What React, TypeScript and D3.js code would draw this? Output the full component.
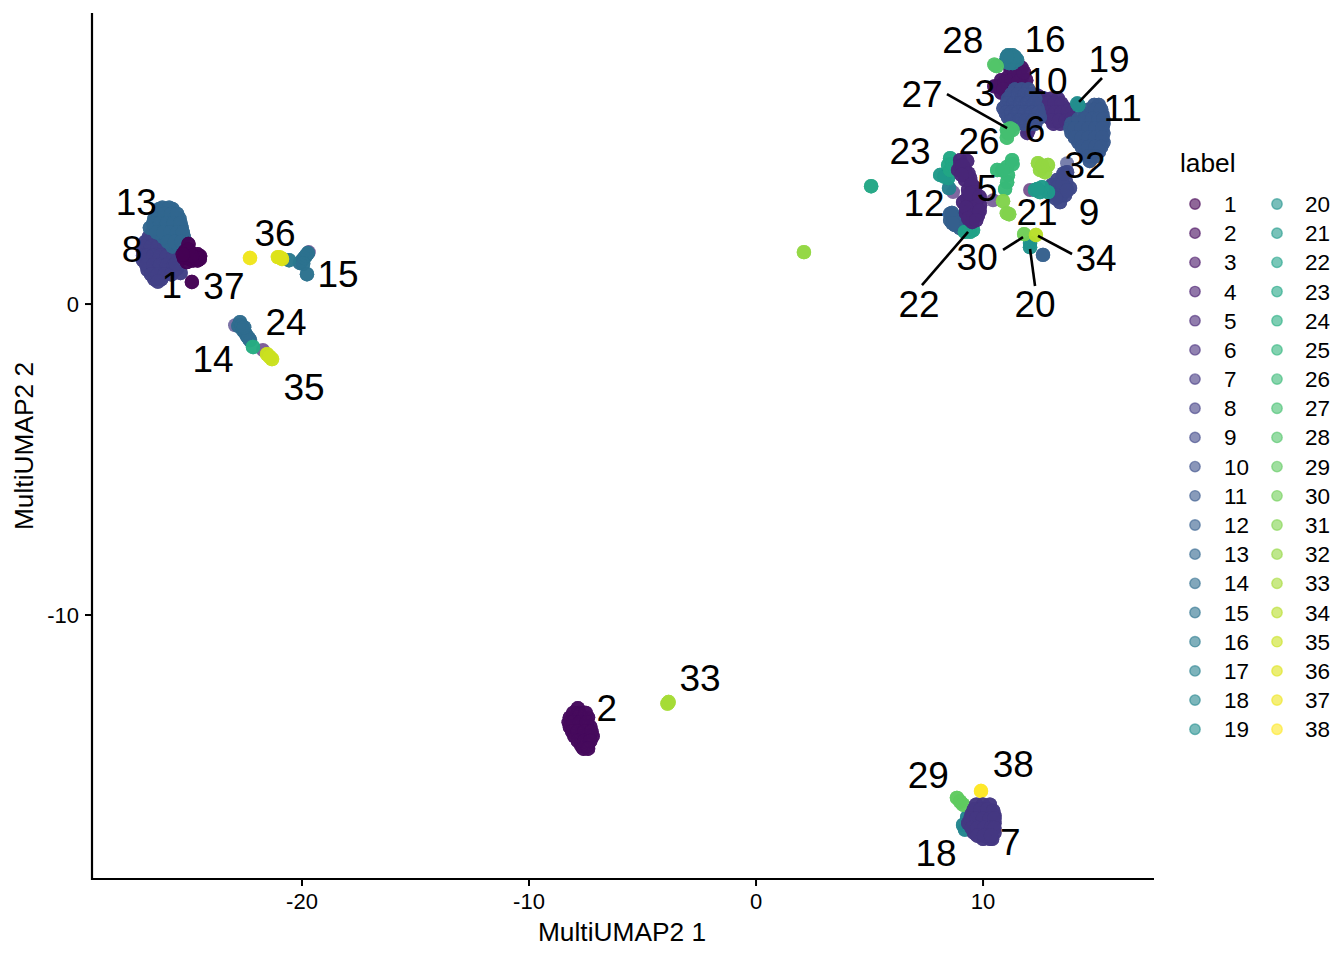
import React from "react";
import * as d3 from "d3";

type P = [number, number];

const xTicks = [-20, -10, 0, 10];
const yTicks = [0, -10];
const labels = Array.from({ length: 38 }, (_, i) => i + 1);

const c1: P[] = [[-25.0,1.93],[-24.93,1.67],[-25.2,1.48],[-24.71,1.54],[-24.49,1.54],[-25.07,1.35],[-24.85,0.71],[-25.15,1.7],[-24.95,1.45],[-24.8,1.4],[-25.1,1.6],[-24.6,1.4],[-24.6,1.6],[-24.5,1.45],[-25.0,1.75],[-24.85,1.55],[-25.25,1.6]];
const c2: P[] = [[-7.85,-13.0],[-7.8,-13.15],[-8.2,-13.3],[-7.9,-13.3],[-7.6,-13.3],[-7.4,-13.3],[-8.2,-13.6],[-7.9,-13.6],[-7.6,-13.6],[-7.3,-13.6],[-8.0,-13.9],[-7.7,-13.9],[-7.4,-13.9],[-7.2,-13.9],[-7.7,-14.2],[-7.4,-14.2],[-8.05,-13.15],[-7.75,-13.2],[-7.5,-13.15],[-8.25,-13.45],[-8.05,-13.45],[-7.75,-13.45],[-7.45,-13.45],[-8.1,-13.75],[-7.85,-13.75],[-7.55,-13.75],[-7.25,-13.75],[-7.85,-14.05],[-7.55,-14.05],[-7.3,-14.05],[-7.6,-14.3],[-7.4,-14.3]];
const c3: P[] = [[10.5,7.0],[10.8,6.8],[10.8,7.2],[11.1,7.3],[11.1,7.0],[11.4,7.0],[11.4,7.4],[11.7,7.6],[11.7,7.3],[11.9,7.2],[11.2,7.6],[10.65,7.0],[10.95,7.15],[11.25,7.2],[11.55,7.45],[11.55,7.15],[11.8,7.45],[10.9,6.9]];
const c5: P[] = [[8.99,4.63],[9.21,4.31],[8.9,4.31],[9.43,4.05],[9.21,3.99],[9.65,3.73],[9.34,3.67],[9.12,3.28],[9.52,3.34],[9.87,3.18],[9.43,3.02],[9.78,2.86],[9.25,2.93],[9.52,2.64],[9.65,3.5],[9.0,4.45],[9.3,4.6],[9.1,4.45],[9.35,4.2],[9.05,4.15],[9.5,3.85],[9.6,3.6],[9.3,3.4],[9.7,3.3],[9.6,3.1],[9.25,3.1],[9.6,2.85],[9.35,2.75],[9.85,3.0],[9.7,2.7],[9.4,3.55],[9.85,3.45]];
const c6: P[] = [[12.4,6.7],[12.7,6.6],[13.0,6.6],[13.3,6.6],[12.7,6.3],[13.0,6.3],[13.3,6.3],[13.6,6.3],[12.9,6.0],[13.2,6.0],[13.5,6.0],[13.8,6.1],[13.1,5.8],[13.4,5.8],[13.8,5.8],[11.95,5.5],[12.0,5.6],[12.55,6.5],[12.85,6.45],[13.15,6.45],[13.45,6.45],[12.85,6.15],[13.15,6.15],[13.45,6.15],[13.75,6.2],[13.05,5.9],[13.35,5.9],[13.65,5.9],[13.9,5.95]];
const c7: P[] = [[9.7,-16.1],[10.0,-16.1],[10.3,-16.1],[9.5,-16.4],[9.8,-16.4],[10.1,-16.4],[10.4,-16.4],[10.5,-16.45],[9.35,-16.7],[9.6,-16.7],[9.9,-16.7],[10.2,-16.7],[10.5,-16.7],[9.6,-17.0],[9.9,-17.0],[10.2,-17.0],[10.5,-17.0],[10.0,-17.2],[10.3,-17.2],[10.4,-17.2],[9.6,-16.25],[9.9,-16.25],[10.2,-16.25],[10.45,-16.3],[9.45,-16.55],[9.7,-16.55],[10.0,-16.55],[10.3,-16.55],[10.5,-16.55],[9.5,-16.85],[9.75,-16.85],[10.05,-16.85],[10.35,-16.85],[10.5,-16.85],[9.75,-17.1],[10.05,-17.1],[10.35,-17.1]];
const c8: P[] = [[-26.6,2.3],[-26.3,2.3],[-26.9,2.0],[-26.6,2.0],[-26.3,2.0],[-26.0,2.0],[-27.0,1.7],[-26.7,1.7],[-26.4,1.7],[-26.1,1.7],[-25.8,1.7],[-27.0,1.4],[-26.7,1.4],[-26.4,1.4],[-26.1,1.4],[-25.8,1.4],[-25.5,1.4],[-26.8,1.1],[-26.5,1.1],[-26.2,1.1],[-25.9,1.1],[-25.6,1.1],[-26.5,0.8],[-26.2,0.8],[-26.75,2.15],[-26.45,2.15],[-26.15,2.15],[-26.95,1.85],[-26.65,1.85],[-26.35,1.85],[-26.05,1.85],[-25.75,1.85],[-27.0,1.55],[-26.85,1.55],[-26.55,1.55],[-26.25,1.55],[-25.95,1.55],[-25.65,1.55],[-26.85,1.25],[-26.55,1.25],[-26.25,1.25],[-25.95,1.25],[-25.65,1.25],[-26.65,0.95],[-26.35,0.95],[-26.05,0.95],[-25.75,0.95],[-26.35,0.72],[-25.5,1.15],[-25.35,1.0],[-25.55,1.3]];
const c9: P[] = [[13.7,4.24],[13.48,4.05],[13.26,3.99],[13.83,3.73],[13.39,3.28],[13.04,3.6],[13.61,3.5],[13.39,3.67],[13.04,3.83],[13.66,3.92],[13.25,3.75],[13.5,3.85],[13.45,3.5],[13.2,3.5],[13.7,3.65],[13.55,4.2],[13.2,3.4]];
const c10: P[] = [[11.4,6.9],[11.7,6.9],[12.0,6.9],[11.1,6.6],[11.4,6.6],[11.7,6.6],[12.0,6.6],[12.3,6.6],[10.9,6.3],[11.2,6.3],[11.5,6.3],[11.8,6.3],[12.1,6.3],[12.4,6.3],[11.1,6.0],[11.4,6.0],[11.7,6.0],[12.0,6.0],[12.3,6.0],[12.5,6.0],[11.5,5.8],[11.8,5.8],[12.1,5.8],[12.3,5.8],[11.25,6.75],[11.55,6.75],[11.85,6.75],[12.15,6.75],[11.05,6.45],[11.35,6.45],[11.65,6.45],[11.95,6.45],[12.25,6.45],[11.0,6.15],[11.25,6.15],[11.55,6.15],[11.85,6.15],[12.15,6.15],[12.45,6.15],[11.25,5.9],[11.6,5.9],[11.9,5.9],[12.2,5.9]];
const c11: P[] = [[14.9,6.4],[15.1,6.4],[14.5,6.1],[14.8,6.1],[15.1,6.1],[15.25,6.1],[13.9,5.8],[14.2,5.8],[14.5,5.8],[14.8,5.8],[15.1,5.8],[15.3,5.8],[13.9,5.5],[14.2,5.5],[14.5,5.5],[14.8,5.5],[15.1,5.5],[15.3,5.5],[14.2,5.2],[14.5,5.2],[14.8,5.2],[15.1,5.2],[15.3,5.2],[14.5,4.9],[14.8,4.9],[15.1,4.9],[14.7,4.6],[14.65,6.25],[14.95,6.25],[15.2,6.25],[14.2,5.95],[14.5,5.95],[14.8,5.95],[15.1,5.95],[15.3,5.95],[13.85,5.65],[14.05,5.65],[14.35,5.65],[14.65,5.65],[14.95,5.65],[15.25,5.65],[14.05,5.35],[14.35,5.35],[14.65,5.35],[14.95,5.35],[15.25,5.35],[14.35,5.05],[14.65,5.05],[14.95,5.05],[15.2,5.05],[14.65,4.75],[14.95,4.75]];
const c12: P[] = [[8.63,2.93],[8.55,2.7],[8.77,2.54],[8.99,2.44],[9.2,2.54],[8.9,2.77],[12.64,1.58],[8.75,2.8],[8.55,2.9],[8.85,2.6],[8.65,2.6]];
const c13: P[] = [[-26.3,3.05],[-26.0,3.05],[-25.7,3.05],[-26.5,2.75],[-26.2,2.75],[-25.9,2.75],[-25.6,2.75],[-25.4,2.75],[-26.7,2.45],[-26.4,2.45],[-26.1,2.45],[-25.8,2.45],[-25.5,2.45],[-25.3,2.45],[-26.1,2.15],[-25.8,2.15],[-25.5,2.15],[-25.2,2.15],[-25.7,1.85],[-25.4,1.85],[-25.2,1.85],[-26.15,3.1],[-25.85,3.1],[-26.35,2.9],[-26.05,2.9],[-25.75,2.9],[-25.5,2.9],[-26.55,2.6],[-26.25,2.6],[-25.95,2.6],[-25.65,2.6],[-25.35,2.6],[-26.4,2.3],[-26.1,2.3],[-25.8,2.3],[-25.5,2.3],[-25.25,2.3],[-25.9,2.0],[-25.6,2.0],[-25.3,2.0]];
const c14: P[] = [[-22.73,-0.58],[-22.6,-0.84],[-22.42,-1.03],[-22.29,-1.16],[-22.8,-0.7],[-22.5,-0.93],[-22.35,-1.1],[-22.65,-0.7],[-22.55,-0.75]];
const c15: P[] = [[-20.09,1.32],[-19.91,1.48],[-19.74,1.64],[-19.78,0.96],[-20.0,1.4],[-19.82,1.56],[-19.95,1.3]];
const c16: P[] = [[11.1,8.0],[11.3,8.0],[11.0,7.8],[11.3,7.75],[11.5,7.85],[-20.57,1.41],[11.2,7.9],[11.15,7.75],[11.4,7.95],[11.05,7.95]];
const c17: P[] = [[8.5,3.73]];
const c18: P[] = [[9.12,-16.75],[9.2,-16.9],[9.3,-16.5]];
const c19: P[] = [[14.2,6.4],[14.15,6.45]];
const c20: P[] = [[12.07,1.83],[12.07,1.96]];
const c21: P[] = [[12.29,3.67],[12.6,3.76],[12.86,3.6],[12.51,3.6],[8.11,4.15],[8.46,4.05],[12.4,3.7],[8.3,4.1]];
const c22: P[] = [[9.43,2.32],[9.56,2.38],[9.2,2.32]];
const c23: P[] = [[8.55,4.69],[8.46,4.47],[8.55,4.31],[5.07,3.79],[8.65,4.5]];
const c24: P[] = [[-22.16,-1.38]];
const c26: P[] = [[11.28,4.63],[11.06,4.41],[10.62,4.31],[11.1,4.15],[11.06,3.92],[10.97,3.7],[11.3,4.5],[10.85,4.3]];
const c27: P[] = [[11.2,5.65],[11.05,5.35],[11.05,5.6],[11.3,5.6],[11.1,5.5]];
const c28: P[] = [[10.5,7.7],[10.6,7.65]];
const c29: P[] = [[8.85,-15.88],[8.99,-16.0],[9.12,-16.1]];
const c30: P[] = [[11.81,2.25]];
const c31: P[] = [[10.88,3.31],[11.15,2.89],[11.05,2.92]];
const c32: P[] = [[12.42,4.53],[12.86,4.47],[12.51,4.31],[12.73,4.24],[12.6,4.45],[2.11,1.67]];
const c33: P[] = [[-3.9,-12.85],[-3.85,-12.8]];
const c34: P[] = [[12.33,2.22]];
const c35: P[] = [[-21.54,-1.61],[-21.32,-1.77],[-21.42,-1.7]];
const c36: P[] = [[-21.06,1.51],[-20.88,1.45],[-20.97,1.5]];
const c37: P[] = [[-22.29,1.48]];
const c38: P[] = [[9.91,-15.66]];

// single, lightly coloured points: label, x, y
const strayLabel = [5, 5, 5, 3, 4, 7, 9];
const strayX = [8.68, 10.44, -19.7, 12.07, -21.72, -22.95, 13.7];
const strayY = [3.6, 3.34, 1.67, 3.67, -1.48, -0.68, 4.53];

const drawOrder: [number, P[]][] = [
  [2,c2],[3,c3],[6,c6],[8,c8],[9,c9],[10,c10],[11,c11],[12,c12],[13,c13],[14,c14],[15,c15],[16,c16],[17,c17],[18,c18],[19,c19],[20,c20],[21,c21],[22,c22],[23,c23],[24,c24],[26,c26],[27,c27],[28,c28],[29,c29],[30,c30],[31,c31],[32,c32],[33,c33],[34,c34],[35,c35],[36,c36],[37,c37],[38,c38],[1,c1],[5,c5],[7,c7],
];

const labelText = ["28","16","19","10","3","27","11","6","26","23","32","5","12","9","21","30","34","22","20","13","8","36","15","1","37","24","14","35","2","33","29","38","18","7"];
const labelX = [9.11,12.73,15.55,12.82,10.09,7.31,16.15,12.29,9.82,6.78,14.49,10.18,7.4,14.67,12.38,9.74,14.98,7.18,12.29,-27.3,-27.49,-21.19,-18.41,-25.73,-23.44,-20.70,-23.92,-19.91,-6.57,-2.47,7.59,11.33,7.93,11.2];
const labelY = [8.46,8.52,7.85,7.17,6.78,6.75,6.30,5.6,5.24,4.92,4.44,3.73,3.22,2.96,2.96,1.51,1.45,0,0,3.25,1.77,2.28,0.96,0.61,0.58,-0.58,-1.77,-2.67,-13.0,-12.03,-15.15,-14.82,-17.68,-17.33];

const segments: [number, number, number, number][] = [
  [8.41,6.75,11.06,5.66],
  [15.24,7.27,14.23,6.5],
  [7.31,0.61,9.34,2.32],
  [10.88,1.74,11.76,2.15],
  [12.29,0.58,12.07,1.77],
  [13.92,1.61,12.42,2.19],
];

const font = "'Liberation Sans', Arial, sans-serif";
const passes = [0, 1, 2];

export default function App() {
  const x = d3.scaleLinear().domain([-29.25, 17.53]).range([92, 1154]);
  const y = d3.scaleLinear().domain([9.36, -18.49]).range([13, 879]);
  const color = d3.scaleSequential(d3.interpolateViridis).domain([1, 38]);
  return (
    <svg width={1344} height={960} style={{ position: "absolute", left: 0, top: 0, background: "#fff" }} fontFamily={font}>
      {strayLabel.map((k, i) => (
        <circle key={i} cx={x(strayX[i])} cy={y(strayY[i])} r={7} fill={color(k)} fillOpacity={0.7} />
      ))}
      {drawOrder.map(([k, pts]) =>
        passes.map((p) => (
          <g key={k + "-" + p} fill={color(k)} fillOpacity={0.7}>
            {pts.map((d, i) => (
              <circle key={i} cx={x(d[0])} cy={y(d[1])} r={7.2} />
            ))}
          </g>
        ))
      )}
      {segments.map((s, i) => (
        <line key={i} x1={x(s[0])} y1={y(s[1])} x2={x(s[2])} y2={y(s[3])} stroke="#000" strokeWidth={2.6} />
      ))}
      {labelText.map((t, i) => (
        <text key={i} x={x(labelX[i])} y={y(labelY[i])} textAnchor="middle" dominantBaseline="central" fontSize={37} fill="#000">{t}</text>
      ))}
      <line x1={92} x2={92} y1={13} y2={880} stroke="#000" strokeWidth={2.2} />
      <line x1={91} x2={1154} y1={879} y2={879} stroke="#000" strokeWidth={2.2} />
      {xTicks.map((t) => (
        <g key={t}>
          <line x1={x(t)} x2={x(t)} y1={879} y2={886} stroke="#000" strokeWidth={2} />
          <text x={x(t)} y={909} textAnchor="middle" fontSize={22}>{t}</text>
        </g>
      ))}
      {yTicks.map((t) => (
        <g key={t}>
          <line x1={85} x2={92} y1={y(t)} y2={y(t)} stroke="#000" strokeWidth={2} />
          <text x={79} y={y(t) + 8} textAnchor="end" fontSize={22}>{t}</text>
        </g>
      ))}
      <text x={622} y={941} textAnchor="middle" fontSize={26.3}>MultiUMAP2 1</text>
      <text transform="translate(33,446) rotate(-90)" textAnchor="middle" fontSize={26.3}>MultiUMAP2 2</text>
      <text x={1180} y={172} fontSize={26.3}>label</text>
      {labels.map((k, i) => {
        const col = i < 19 ? 0 : 1;
        const row = i < 19 ? i : i - 19;
        const cy = 204 + row * 29.18;
        return (
          <g key={k}>
            <circle cx={col ? 1277 : 1195} cy={cy} r={5.2} fill={color(k)} fillOpacity={0.6} stroke={color(k)} strokeOpacity={0.6} strokeWidth={1.4} />
            <text x={col ? 1305 : 1224} y={cy + 8} fontSize={22.5}>{k}</text>
          </g>
        );
      })}
    </svg>
  );
}
